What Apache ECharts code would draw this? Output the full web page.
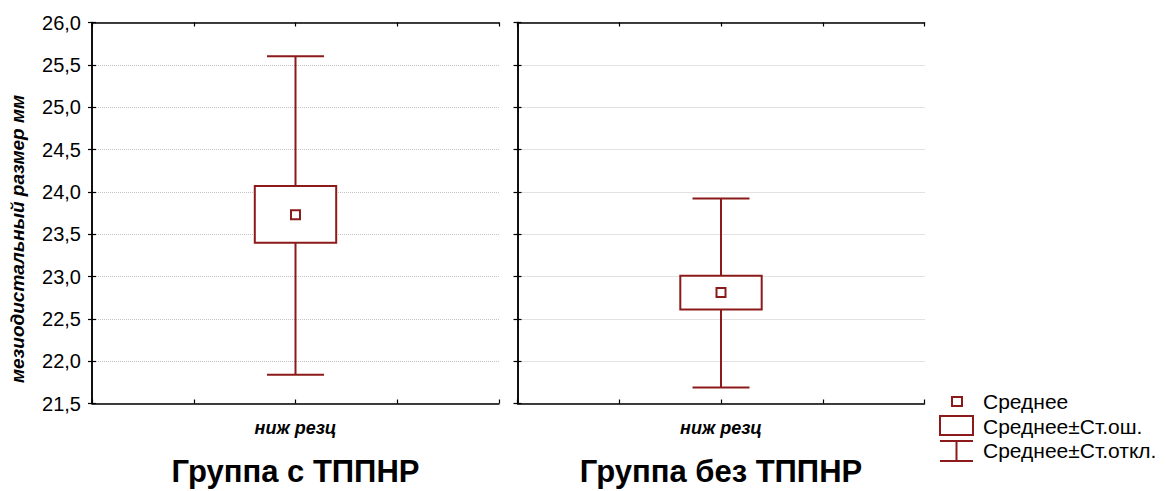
<!DOCTYPE html>
<html>
<head>
<meta charset="utf-8">
<script src="https://cdn.jsdelivr.net/npm/echarts@6/dist/echarts.min.js"></script>
<style>
html,body{margin:0;padding:0;background:#fff;}
#chart{width:1166px;height:491px;}
</style>
</head>
<body>
<div id="chart"></div>
<script>
// ---- data ----
const groups = ['Группа с ТППНР', 'Группа без ТППНР'];
const categories = ['ниж резц'];
const means  = [23.73, 22.81];
const seLow  = [23.40, 22.61];
const seHigh = [24.07, 23.01];
const sdLow  = [21.84, 21.69];
const sdHigh = [25.60, 23.92];
const yTicks = { min: 21.5, max: 26.0, step: 0.5 };
const legendLabels = ['Среднее', 'Среднее±Ст.ош.', 'Среднее±Ст.откл.'];
const yName = 'мезиодистальный размер мм';

// ---- styling ----
const RED = '#8c1a1a';
const FONT = '"Liberation Sans", Arial, sans-serif';
const gridPos = [
  { left: 92, top: 22.5, width: 407, height: 381 },
  { left: 517.5, top: 22.5, width: 407, height: 381 }
];
const CAT_X = 2;

const chart = echarts.init(document.getElementById('chart'), null, { renderer: 'svg' });

const grid = gridPos.map(g => Object.assign({ containLabel: false }, g));
const xAxis = [];
const yAxis = [];
const series = [];
const axisLineStyle = { color: '#000', width: 1.5 };

groups.forEach((g, gi) => {
  // bottom x axis
  xAxis.push({
    type: 'value', gridIndex: gi, min: 0, max: 4, interval: 1, position: 'bottom',
    axisLine: { show: true, lineStyle: axisLineStyle },
    axisTick: { show: true, inside: true, length: 4, lineStyle: { color: '#000', width: 1.2 } },
    splitLine: { show: false },
    axisLabel: {
      show: true, margin: 15, showMinLabel: true, showMaxLabel: true,
      fontFamily: FONT, fontSize: 18, fontWeight: 'bold', fontStyle: 'italic', color: '#000',
      formatter: v => (v === CAT_X ? categories[0] : '')
    }
  });
  // top x axis
  xAxis.push({
    type: 'value', gridIndex: gi, min: 0, max: 4, interval: 1, position: 'top',
    axisLine: { show: true, lineStyle: axisLineStyle },
    axisTick: { show: true, inside: true, length: 4, lineStyle: { color: '#000', width: 1.2 } },
    splitLine: { show: false }, axisLabel: { show: false }
  });
  // left y axis
  yAxis.push({
    type: 'value', gridIndex: gi, min: yTicks.min, max: yTicks.max, interval: yTicks.step, position: 'left',
    axisLine: { show: true, lineStyle: axisLineStyle },
    axisTick: { show: true, inside: true, length: 4, lineStyle: { color: '#000', width: 1.2 } },
    splitLine: { show: true, lineStyle: { color: '#c4c4c4', type: 'dotted', width: 1 } },
    axisLabel: {
      show: gi === 0, margin: 11, fontFamily: FONT, fontSize: 20, color: '#000',
      formatter: v => v.toFixed(1).replace('.', ',')
    }
  });
  // right y axis
  yAxis.push({
    type: 'value', gridIndex: gi, min: yTicks.min, max: yTicks.max, interval: yTicks.step, position: 'right',
    axisLine: { show: true, lineStyle: axisLineStyle },
    axisTick: { show: true, inside: true, length: 4, lineStyle: { color: '#000', width: 1.2 } },
    splitLine: { show: false }, axisLabel: { show: false }
  });

  const xi = gi * 2, yi = gi * 2;
  // whiskers (mean ± sd)
  series.push({
    type: 'custom', name: legendLabels[2], xAxisIndex: xi, yAxisIndex: yi, z: 2,
    data: [[CAT_X, sdLow[gi], sdHigh[gi]]],
    renderItem: (params, api) => {
      const x = api.value(0);
      const lo = api.coord([x, api.value(1)]);
      const hi = api.coord([x, api.value(2)]);
      const cw = api.size([0.56, 0])[0];
      const st = { stroke: RED, lineWidth: 2 };
      return { type: 'group', children: [
        { type: 'line', shape: { x1: lo[0], y1: lo[1], x2: hi[0], y2: hi[1] }, style: st },
        { type: 'line', shape: { x1: lo[0] - cw / 2, y1: lo[1], x2: lo[0] + cw / 2, y2: lo[1] }, style: st },
        { type: 'line', shape: { x1: hi[0] - cw / 2, y1: hi[1], x2: hi[0] + cw / 2, y2: hi[1] }, style: st }
      ]};
    }
  });
  // box (mean ± se)
  series.push({
    type: 'custom', name: legendLabels[1], xAxisIndex: xi, yAxisIndex: yi, z: 3,
    data: [[CAT_X, seLow[gi], seHigh[gi]]],
    renderItem: (params, api) => {
      const x = api.value(0);
      const lo = api.coord([x, api.value(1)]);
      const hi = api.coord([x, api.value(2)]);
      const w = api.size([0.8, 0])[0];
      return { type: 'rect',
        shape: { x: lo[0] - w / 2, y: hi[1], width: w, height: lo[1] - hi[1] },
        style: { fill: '#fff', stroke: RED, lineWidth: 2 } };
    }
  });
  // mean
  series.push({
    type: 'scatter', name: legendLabels[0], xAxisIndex: xi, yAxisIndex: yi, z: 4,
    symbol: 'rect', symbolSize: 9,
    itemStyle: { color: '#fff', borderColor: RED, borderWidth: 2, opacity: 1 },
    emphasis: { disabled: true },
    data: [[CAT_X, means[gi]]]
  });
});

const textStyle = (extra) => Object.assign({ fontFamily: FONT, fill: '#000' }, extra);
const graphic = [
  // y-axis name
  { type: 'text', x: 17, y: 239, rotation: Math.PI / 2,
    style: textStyle({ text: yName, fontSize: 19, fontWeight: 'bold', fontStyle: 'italic', textAlign: 'center', textVerticalAlign: 'middle' }) },
  // group titles
  { type: 'text', x: gridPos[0].left + gridPos[0].width / 2, y: 471,
    style: textStyle({ text: groups[0], fontSize: 31, fontWeight: 'bold', textAlign: 'center', textVerticalAlign: 'middle' }) },
  { type: 'text', x: gridPos[1].left + gridPos[1].width / 2, y: 471,
    style: textStyle({ text: groups[1], fontSize: 31, fontWeight: 'bold', textAlign: 'center', textVerticalAlign: 'middle' }) },
  // legend
  { type: 'rect', shape: { x: 952, y: 397, width: 10, height: 9 }, style: { fill: '#fff', stroke: RED, lineWidth: 2 } },
  { type: 'text', x: 983, y: 401.5, style: textStyle({ text: legendLabels[0], fontSize: 21, textVerticalAlign: 'middle' }) },
  { type: 'rect', shape: { x: 940, y: 416, width: 33, height: 19 }, style: { fill: '#fff', stroke: RED, lineWidth: 2 } },
  { type: 'text', x: 983, y: 426, style: textStyle({ text: legendLabels[1], fontSize: 21, textVerticalAlign: 'middle' }) },
  { type: 'line', shape: { x1: 940, y1: 441, x2: 973, y2: 441 }, style: { stroke: RED, lineWidth: 2 } },
  { type: 'line', shape: { x1: 956.5, y1: 441, x2: 956.5, y2: 461 }, style: { stroke: RED, lineWidth: 2 } },
  { type: 'line', shape: { x1: 940, y1: 461, x2: 973, y2: 461 }, style: { stroke: RED, lineWidth: 2 } },
  { type: 'text', x: 983, y: 450.5, style: textStyle({ text: legendLabels[2], fontSize: 21, textVerticalAlign: 'middle' }) }
];

chart.setOption({
  animation: false,
  backgroundColor: '#fff',
  grid, xAxis, yAxis, series, graphic
});
</script>
</body>
</html>
